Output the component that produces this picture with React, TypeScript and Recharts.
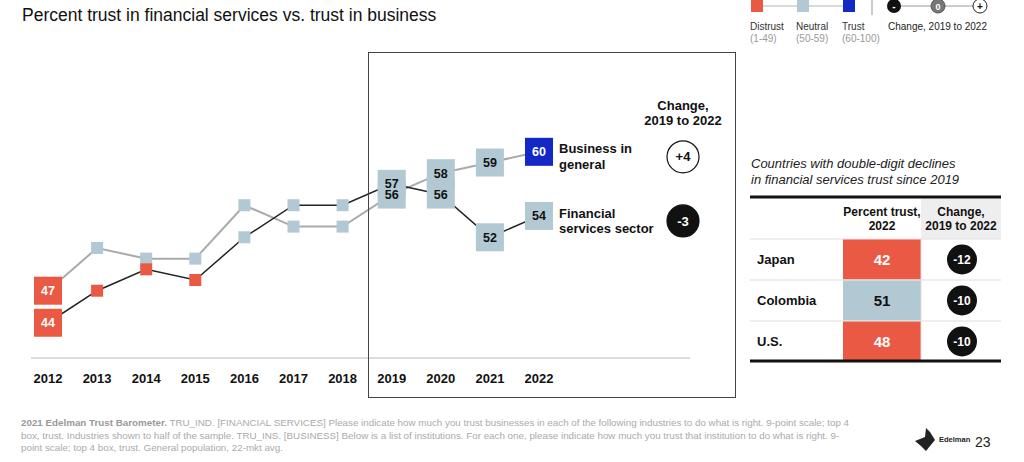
import { LineChart, Line, XAxis, YAxis } from 'recharts';

const years = ['2012', '2013', '2014', '2015', '2016', '2017', '2018', '2019', '2020', '2021', '2022'];
const businessTrust = [47, 51, 50, 50, 55, 53, 53, 56, 58, 59, 60];
const financialTrust = [44, 47, 49, 48, 52, 55, 55, 57, 56, 52, 54];
const labeledYears = ['2012', '2019', '2020', '2021', '2022'];
const changeFromYear = '2019';
const businessName = ['Business in', 'general'];
const financialName = ['Financial', 'services sector'];

const countries = ['Japan', 'Colombia', 'U.S.'];
const countryTrust = [42, 51, 48];
const countryChange = [-12, -10, -10];

const legendBands = ['Distrust', 'Neutral', 'Trust'];
const legendRanges = ['(1-49)', '(50-59)', '(60-100)'];
const legendBandValues = [40, 55, 70];

const footnote = [
  ' TRU_IND. [FINANCIAL SERVICES] Please indicate how much you trust businesses in each of the following industries to do what is right. 9-point scale; top 4',
  'box, trust. Industries shown to half of the sample. TRU_INS. [BUSINESS] Below is a list of institutions. For each one, please indicate how much you trust that institution to do what is right. 9-',
  'point scale; top 4 box, trust. General population, 22-mkt avg.',
];

const RED = '#EA5944';
const NEUTRAL = '#B2C8D2';
const BLUE = '#1428C8';

const bandColor = (v: number) => (v < 50 ? RED : v < 60 ? NEUTRAL : BLUE);
const bandText = (v: number) => (v < 50 || v >= 60 ? '#fff' : '#111');

const data = years.map((year, i) => ({
  year,
  business: businessTrust[i],
  financial: financialTrust[i],
}));

const names: Record<string, string[]> = { business: businessName, financial: financialName };

const boxDot = (key: string) => (props: any) => {
  const { cx, cy, payload, index } = props;
  const v = payload[key];
  const s = labeledYears.includes(payload.year) ? 28 : 12;
  return <rect key={`${key}-box-${index}`} x={cx - s / 2} y={cy - s / 2} width={s} height={s} fill={bandColor(v)} />;
};

const labelDot = (key: string) => (props: any) => {
  const { cx, cy, payload, index } = props;
  const v = payload[key];
  if (!labeledYears.includes(payload.year)) return <g key={`${key}-lbl-${index}`} />;
  const last = index === data.length - 1;
  const from = data.find((d) => d.year === changeFromYear) as any;
  const diff = v - from[key];
  return (
    <g key={`${key}-lbl-${index}`}>
      <text x={cx} y={cy + 4.5} textAnchor="middle" fontSize={12.5} fontWeight={700} fill={bandText(v)}>
        {v}
      </text>
      {last && (
        <g>
          <text x={cx + 20} y={cy + 1.6} fontSize={13} fontWeight={700} fill="#111">
            {names[key][0]}
          </text>
          <text x={cx + 20} y={cy + 17} fontSize={13} fontWeight={700} fill="#111">
            {names[key][1]}
          </text>
          <circle
            cx={cx + 144}
            cy={cy + 5}
            r={16}
            fill={diff > 0 ? '#fff' : diff < 0 ? '#111' : '#777'}
            stroke="#111"
            strokeWidth={1.2}
          />
          <text x={cx + 144} y={cy + 9.6} textAnchor="middle" fontSize={13} fontWeight={700} fill={diff > 0 ? '#111' : '#fff'}>
            {diff > 0 ? `+${diff}` : `${diff}`}
          </text>
        </g>
      )}
    </g>
  );
};

const Overlay = () => (
  <svg width={1024} height={462} style={{ position: 'absolute', left: 0, top: 0, pointerEvents: 'none' }}>
    <text x={22} y={21} fontSize={17.5} fill="#111">
      Percent trust in financial services vs. trust in business
    </text>

    <rect x={368.5} y={52.5} width={367} height={345} fill="none" stroke="#444" strokeWidth={1} />

    <text x={683} y={109.7} textAnchor="middle" fontSize={13} fontWeight={700} fill="#111">
      Change,
    </text>
    <text x={683} y={124.7} textAnchor="middle" fontSize={13} fontWeight={700} fill="#111">
      2019 to 2022
    </text>

    {/* legend */}
    <line x1={757} x2={849} y1={6} y2={6} stroke="#ccc" strokeWidth={1.5} />
    {legendBands.map((b, i) => (
      <g key={b}>
        <rect x={751 + i * 46} y={0} width={12} height={12} fill={bandColor(legendBandValues[i])} />
        <text x={750 + i * 46} y={29.6} fontSize={10} fill="#333">
          {b}
        </text>
        <text x={750 + i * 46} y={41.6} fontSize={10} fill="#999">
          {legendRanges[i]}
        </text>
      </g>
    ))}
    <line x1={872} x2={872} y1={0} y2={15} stroke="#999" />
    <line x1={894} x2={980} y1={6} y2={6} stroke="#bbb" strokeWidth={1.5} />
    <circle cx={894} cy={6} r={7} fill="#111" />
    <text x={894} y={9.5} textAnchor="middle" fontSize={10} fontWeight={700} fill="#fff">-</text>
    <circle cx={938} cy={6} r={7} fill="#777" stroke="#555" />
    <text x={938} y={9.5} textAnchor="middle" fontSize={9} fontWeight={700} fill="#fff">0</text>
    <circle cx={980} cy={6} r={7} fill="#fff" stroke="#222" />
    <text x={980} y={9.5} textAnchor="middle" fontSize={10} fontWeight={700} fill="#111">+</text>
    <text x={888} y={29.6} fontSize={10} fill="#222">
      Change, 2019 to 2022
    </text>

    {/* table */}
    <text x={751} y={167.7} fontSize={13} fontStyle="italic" fill="#222">
      Countries with double-digit declines
    </text>
    <text x={751} y={183.7} fontSize={13} fontStyle="italic" fill="#222">
      in financial services trust since 2019
    </text>
    <rect x={921} y={198.5} width={80} height={40} fill="#eee" />
    <text x={882} y={216.3} textAnchor="middle" fontSize={12} fontWeight={700} fill="#111">Percent trust,</text>
    <text x={882} y={230.3} textAnchor="middle" fontSize={12} fontWeight={700} fill="#111">2022</text>
    <text x={961} y={216.3} textAnchor="middle" fontSize={12} fontWeight={700} fill="#111">Change,</text>
    <text x={961} y={230.3} textAnchor="middle" fontSize={12} fontWeight={700} fill="#111">2019 to 2022</text>
    {countries.map((c, i) => {
      const top = 239 + i * 41;
      const mid = top + 20.5;
      return (
        <g key={c}>
          <line x1={750} x2={1001} y1={top} y2={top} stroke="#ddd" />
          <rect x={843} y={top + 0.5} width={78} height={40} fill={bandColor(countryTrust[i])} />
          <line x1={921} x2={921} y1={top} y2={top + 41} stroke="#ddd" />
          <text x={757} y={mid + 4.6} fontSize={13} fontWeight={700} fill="#111">{c}</text>
          <text x={882} y={mid + 5.4} textAnchor="middle" fontSize={15} fontWeight={700} fill={bandText(countryTrust[i])}>
            {countryTrust[i]}
          </text>
          <circle cx={962} cy={mid} r={15} fill="#111" />
          <text x={962} y={mid + 4.3} textAnchor="middle" fontSize={12} fontWeight={700} fill="#fff">
            {countryChange[i]}
          </text>
        </g>
      );
    })}
    <line x1={750} x2={1001} y1={197} y2={197} stroke="#111" strokeWidth={3} />
    <line x1={750} x2={1001} y1={361} y2={361} stroke="#111" strokeWidth={3} />

    {/* footnote */}
    <text x={21} y={426} fontSize={9.8} fill="#aaa">
      <tspan fontWeight={700} fill="#999">2021 Edelman Trust Barometer.</tspan>
      {footnote[0]}
    </text>
    <text x={21} y={438.5} fontSize={9.8} fill="#aaa">{footnote[1]}</text>
    <text x={21} y={451} fontSize={9.8} fill="#aaa">{footnote[2]}</text>

    <polygon points="915,441 925,437 926,428 930,432 935,440 930,446 926,451 921,446" fill="#222" />
    <text x={939} y={442} fontSize={7.5} fontWeight={700} fill="#222">Edelman</text>
    <text x={975} y={446.5} fontSize={14} fill="#222">23</text>
  </svg>
);

export default function App() {
  return (
    <div
      style={{
        position: 'absolute',
        left: 0,
        top: 0,
        width: 1024,
        height: 462,
        overflow: 'hidden',
        background: '#fff',
        fontFamily: '"Liberation Sans", Arial, sans-serif',
      }}
    >
      <LineChart width={1024} height={462} data={data} margin={{ top: 45, right: 334, bottom: 74, left: 31 }}>
        <XAxis
          dataKey="year"
          interval={0}
          padding={{ left: 17, right: 151 }}
          tickLine={false}
          tickSize={0}
          tickMargin={16}
          axisLine={{ stroke: '#bbb' }}
          tick={{ fontSize: 13, fontWeight: 700, fill: '#111' }}
        />
        <YAxis hide domain={[40.7, 70]} />
        <Line dataKey="business" stroke="#aaa" strokeWidth={2} dot={false} activeDot={false} isAnimationActive={false} />
        <Line dataKey="financial" stroke="#222" strokeWidth={1.5} dot={false} activeDot={false} isAnimationActive={false} />
        <Line dataKey="business" stroke="none" dot={boxDot('business')} activeDot={false} isAnimationActive={false} />
        <Line dataKey="financial" stroke="none" dot={boxDot('financial')} activeDot={false} isAnimationActive={false} />
        <Line dataKey="business" stroke="none" dot={labelDot('business')} activeDot={false} isAnimationActive={false} />
        <Line dataKey="financial" stroke="none" dot={labelDot('financial')} activeDot={false} isAnimationActive={false} />
      </LineChart>
      <Overlay />
    </div>
  );
}
